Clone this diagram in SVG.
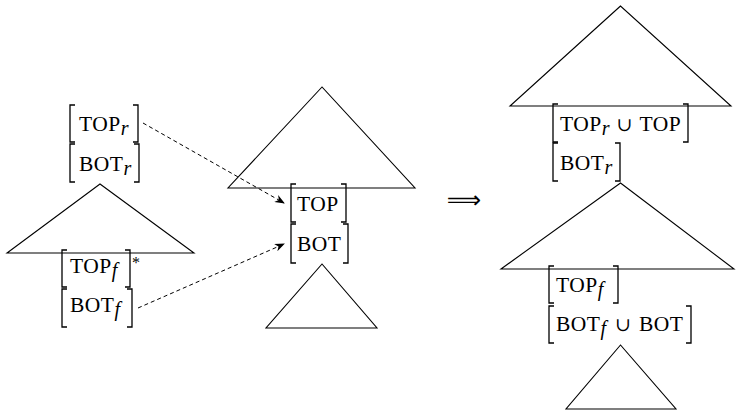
<svg xmlns="http://www.w3.org/2000/svg" width="736" height="412" viewBox="0 0 736 412">
<defs>
<style>
.tri{fill:none;stroke:#000;stroke-width:1.1;stroke-linejoin:miter}
.br{fill:none;stroke:#000;stroke-width:1.3}
text{font-family:'Liberation Serif', serif;font-size:21.5px;letter-spacing:0.5px;fill:#000}
.s{font-style:italic;font-size:20px;letter-spacing:0}
.u{font-family:'DejaVu Serif', serif;font-size:19px;letter-spacing:0}
.dash{fill:none;stroke:#000;stroke-width:1;stroke-dasharray:4 3}
</style>
<marker id="ah" viewBox="0 0 10 8" refX="9" refY="4" markerWidth="10" markerHeight="8" markerUnits="userSpaceOnUse" orient="auto">
<path d="M0,0 L10,4 L0,8 L3,4 z" fill="#000"/>
</marker>
</defs>
<rect width="736" height="412" fill="#fff"/>

<g id="left">
<g id="left-topr">
<path class="br" d="M75,105 H70 V142 H75 M133,105 H138 V142 H133"/>
<text x="79" y="131">TOP<tspan class="s" dy="4">r</tspan></text>
</g>
<g id="left-botr">
<path class="br" d="M75,144 H70 V182 H75 M134,144 H139 V182 H134"/>
<text x="79" y="170.5">BOT<tspan class="s" dy="4">r</tspan></text>
</g>
<g id="left-tree"><path class="tri" d="M100,184 L7,253 L194,253 Z"/></g>
<g id="left-topf">
<path class="br" d="M67,250 H62 V287 H67 M125,250 H130 V287 H125"/>
<text x="70" y="273">TOP<tspan class="s" dy="4">f</tspan></text>
<text x="132" y="268" style="font-size:16px;fill:#000">*</text>
</g>
<g id="left-botf">
<path class="br" d="M67,289 H62 V327 H67 M127,289 H132 V327 H127"/>
<text x="70" y="312">BOT<tspan class="s" dy="4">f</tspan></text>
</g>
</g>

<g id="middle">
<g id="mid-tree"><path class="tri" d="M322,87 L228,188 L415,188 Z"/></g>
<g id="mid-top">
<path class="br" d="M296,184 H291 V222 H296 M341,184 H346 V222 H341"/>
<text x="297" y="211">TOP</text>
</g>
<g id="mid-bot">
<path class="br" d="M296,224 H291 V263 H296 M343,224 H348 V263 H343"/>
<text x="297" y="250.5">BOT</text>
</g>
<g id="mid-small"><path class="tri" d="M322,264 L266,328 L377,328 Z"/></g>
</g>

<g id="implies">
<text x="464" y="208" text-anchor="middle" style="font-family:'DejaVu Sans', sans-serif;font-size:24px;letter-spacing:0">⟹</text>
</g>

<g id="right">
<g id="right-tree1"><path class="tri" d="M620.5,6 L510,106 L731,106 Z"/></g>
<g id="right-topr">
<path class="br" d="M558,104 H553 V142 H558 M683,104 H688 V142 H683"/>
<text x="560" y="131">TOP<tspan class="s" dy="4">r</tspan><tspan class="u" dx="7" dy="-4">∪</tspan><tspan dx="7">TOP</tspan></text>
</g>
<g id="right-botr">
<path class="br" d="M558,143 H553 V181 H558 M615,143 H620 V181 H615"/>
<text x="560" y="170">BOT<tspan class="s" dy="4">r</tspan></text>
</g>
<g id="right-tree2"><path class="tri" d="M620.5,183 L501,269 L734,269 Z"/></g>
<g id="right-topf">
<path class="br" d="M554,266 H549 V303 H554 M613,266 H618 V303 H613"/>
<text x="556" y="292">TOP<tspan class="s" dy="4">f</tspan></text>
</g>
<g id="right-botf">
<path class="br" d="M554,306 H549 V343 H554 M686,306 H691 V343 H686"/>
<text x="556" y="331">BOT<tspan class="s" dy="4">f</tspan><tspan class="u" dx="9" dy="-4">∪</tspan><tspan dx="8">BOT</tspan></text>
</g>
<g id="right-tree3"><path class="tri" d="M620.5,345 L566,409 L676,409 Z"/></g>
</g>

<g id="connectors">
<path class="dash" d="M143,123 L284,203" marker-end="url(#ah)"/>
<path class="dash" d="M138,308 L284,244" marker-end="url(#ah)"/>
</g>
</svg>
